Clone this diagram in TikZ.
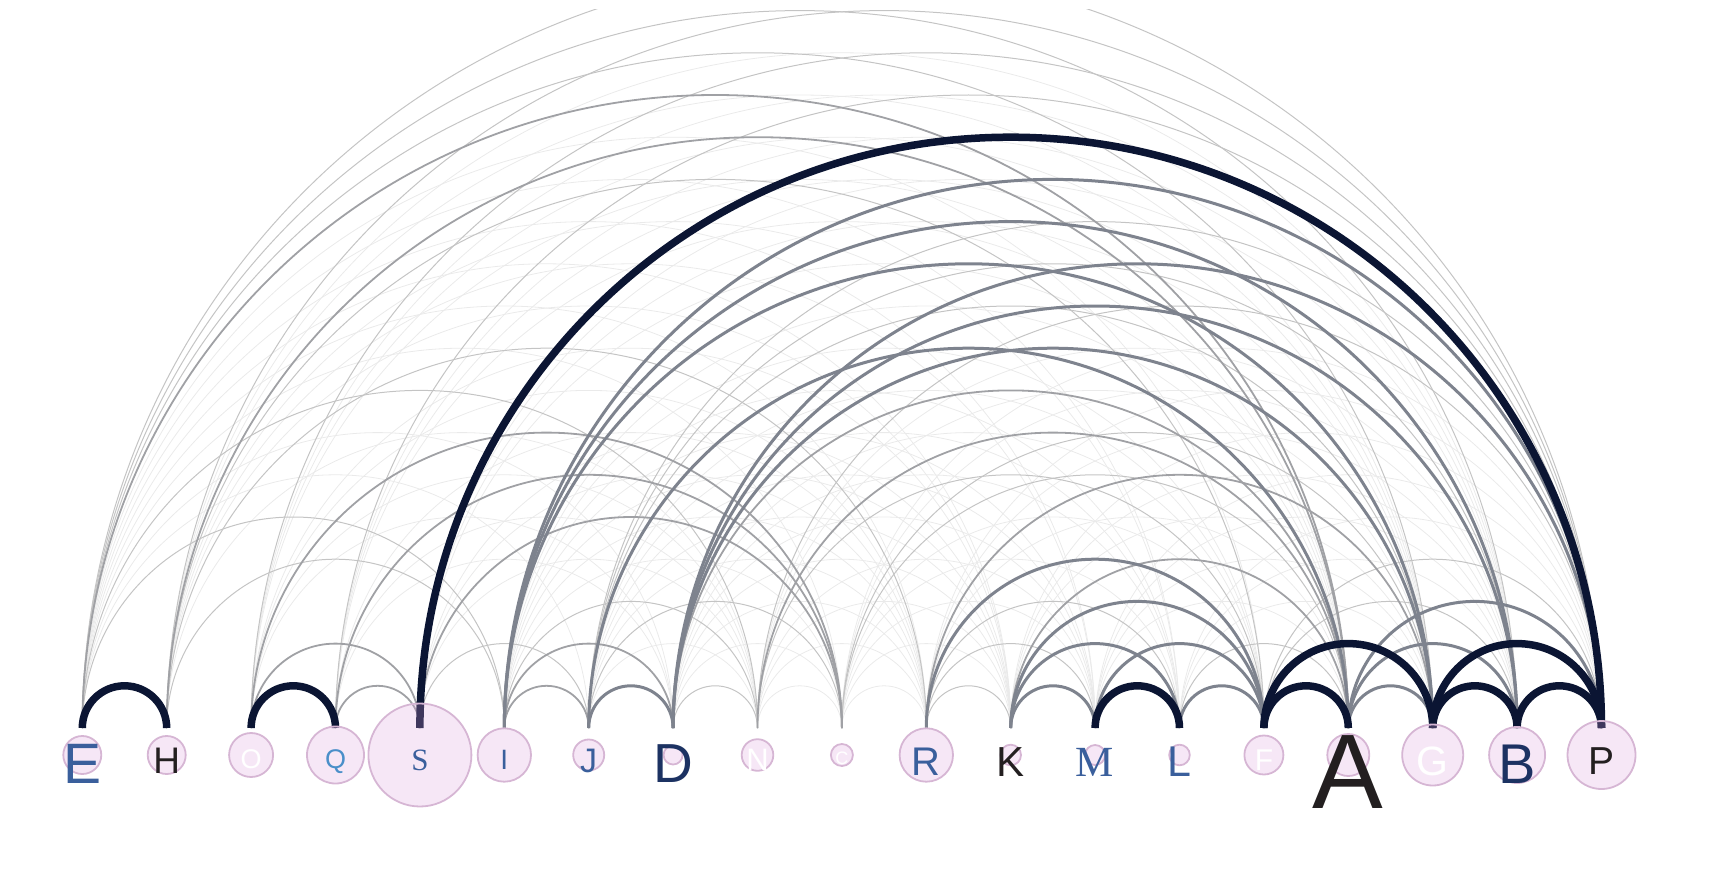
\documentclass[tikz,border=0pt]{standalone}
\usepackage{fontspec}
\setmainfont{Liberation Sans}
\newfontfamily\serifface{Liberation Serif}
\usepackage{tikz}
\usetikzlibrary{calc}
\definecolor{arcnavy}{HTML}{0B1533}
\definecolor{arcmid}{HTML}{7E838E}
\definecolor{arcgrey}{HTML}{A0A1A5}
\definecolor{arclight}{HTML}{C4C4C4}
\definecolor{arcfaint}{HTML}{EAEAEA}
\definecolor{bubblefill}{RGB}{221,160,221}
\definecolor{bubbleedge}{HTML}{D6B6D4}
\definecolor{labelblue}{HTML}{3A5F9C}
\definecolor{labelsky}{HTML}{4A8FC9}
\definecolor{labelnavy}{HTML}{1C3262}
\definecolor{labelblack}{HTML}{231F20}
\tikzstyle{bubble}=[circle,draw=bubbleedge,line width=1.8pt,fill=bubblefill,fill opacity=0.25,inner sep=0pt]
\tikzstyle{letter}=[anchor=base,inner sep=0pt]
\tikzstyle{heavyarc}=[draw=arcnavy,line width=7.5pt]
\tikzstyle{midarc}=[draw=arcmid,line width=3pt]
\tikzstyle{greyarc}=[draw=arcgrey,line width=1.8pt]
\tikzstyle{lightarc}=[draw=arclight,line width=1pt]
\tikzstyle{faintarc}=[draw=arcfaint,line width=0.8pt]

\begin{document}
\begin{tikzpicture}[x=1pt,y=-1pt]
    \useasboundingbox (0,0) rectangle (1714,880);
    % First we place the 19 positions on the line
    \foreach \name [count=\i from 0] in {E,H,O,Q,S,I,J,D,N,C,R,K,M,L,F,A,G,B,P}
        \coordinate (\name) at ({82.3+84.4*\i},755);

    \begin{scope}
    \clip (0,10) rectangle (1714,880);
    % Then the arcs, lightest first
    \foreach \source/\dest in {E/J, E/D, E/K, E/R, E/M, E/L, E/F, E/C, H/N, H/M, H/K, H/L, H/G, H/B,
        O/D, O/N, O/R, O/K, O/A, O/G, O/B, Q/D, Q/N, Q/R, Q/A, Q/G, Q/B, S/N, S/R, S/K, S/A, S/G, S/B,
        I/C, I/R, I/K, I/M, I/L, I/F, I/A, J/N, J/R, J/K, J/M, J/L, J/F,
        D/C, D/R, D/K, D/M, D/L, D/F, N/C, N/R, N/K, N/M, N/G, N/B, C/R, C/K, C/M, C/L, C/F, C/B, C/P,
        R/A, R/B, R/P, K/G, K/B, K/P, M/A, M/G, M/B, M/P, L/G, L/B, L/P}
        \path[faintarc] let \p1=(\source), \p2=(\dest) in (\x1,\y1+27pt) arc[start angle=180,end angle=0,radius={(\x2-\x1)/2}];
    \foreach \source/\dest in {E/I, H/I, R/K, R/M, R/L, N/F, E/G, E/B, H/P, O/P, Q/P, H/F, E/P, D/N, S/J,
        F/B, F/P, J/C, I/N, E/N, H/R, C/A, C/G, L/A, N/P, J/G, J/B, J/P}
        \path[lightarc] let \p1=(\source), \p2=(\dest) in (\x1,\y1+27pt) arc[start angle=180,end angle=0,radius={(\x2-\x1)/2}];
    \foreach \source/\dest in {E/A, H/A, D/A, I/J, K/A, N/A, R/G, O/S, Q/S, I/D, Q/C, O/C, S/C}
        \path[greyarc] let \p1=(\source), \p2=(\dest) in (\x1,\y1+27pt) arc[start angle=180,end angle=0,radius={(\x2-\x1)/2}];
    \foreach \source/\dest in {I/P, I/B, I/G, D/P, D/B, D/G, J/A, J/D, K/M, L/F, A/G, K/L, M/F, A/B, K/F, A/P, R/F}
        \path[midarc] let \p1=(\source), \p2=(\dest) in (\x1,\y1+27pt) arc[start angle=180,end angle=0,radius={(\x2-\x1)/2}];
    \foreach \source/\dest in {E/H, O/Q, S/P, M/L, F/A, F/G, G/B, G/P, B/P}
        \path[heavyarc] let \p1=(\source), \p2=(\dest) in (\x1,\y1+27pt) arc[start angle=180,end angle=0,radius={(\x2-\x1)/2}];
    \end{scope}

    % Bubbles over the arc ends
    \foreach \name/\r in {E/19, H/19, O/22, Q/28.5, S/51.5, I/26.7, J/15.5, D/9.5, N/15.8, C/11,
        R/26.7, K/10.3, M/10, L/10.3, F/19.5, A/21, G/30.5, B/28, P/34}
        \node[bubble,minimum size=2*\r pt] (b\name) at (\name) {};

    % Letters on top
    \foreach \name/\size/\col/\face in {E/57/labelblue/\rmfamily, H/37/labelblack/\rmfamily, O/27/white/\rmfamily,
        Q/27/labelsky/\rmfamily, S/31/labelblue/\serifface, I/28/labelblue/\rmfamily, J/34/labelblue/\rmfamily,
        D/55/labelnavy/\rmfamily, N/31/white/\rmfamily, C/18/white/\rmfamily, R/40/labelblue/\rmfamily,
        K/42/labelblack/\rmfamily, M/43/labelblue/\serifface, L/43/labelblue/\rmfamily, F/30/white/\rmfamily,
        A/106/labelblack/\rmfamily, G/41/white/\rmfamily, B/56/labelnavy/\rmfamily, P/39/labelblack/\rmfamily}
        \node[letter,text=\col,font=\face\fontsize{\size}{\size}\selectfont] (l\name) at ([yshift=-\size*0.5pt]\name) {\name};
\end{tikzpicture}
\end{document}
